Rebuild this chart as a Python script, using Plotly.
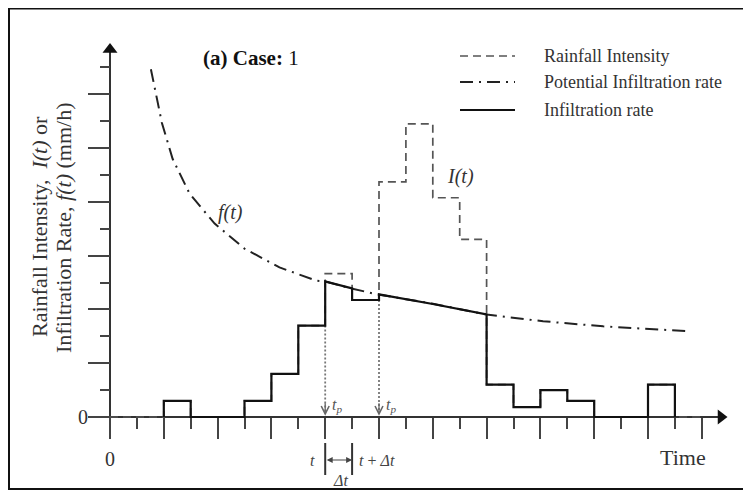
import plotly.graph_objects as go

# ---------------- data (1 unit = one time step / one tick) ----------------
# rainfall intensity per time step (step k spans [k, k+1])
rain_start = list(range(0, 22))
rain_value = [0, 0, 0.6, 0, 0, 0.6, 1.6, 3.4, 5.33, 4.35, 8.74, 10.9, 8.15, 6.6,
              1.2, 0.37, 1.0, 0.6, 0, 0, 1.2, 0]
rain_end = 22

# potential infiltration rate f(t)
f_time = [1.52, 1.93, 2.33, 2.96, 3.89, 5.0, 6.3, 7.67, 8.0, 8.96, 9.93, 11.96, 14.0, 16.1, 18.33, 21.48]
f_rate = [12.93, 10.93, 9.59, 8.3, 7.19, 6.26, 5.56, 5.07, 5.04, 4.78, 4.56, 4.22, 3.81, 3.56, 3.37, 3.19]

# actual infiltration rate (solid line vertices)
inf_time = [2, 2, 3, 3, 5, 5, 6, 6, 7, 7, 8, 8, 9, 9, 10, 10, 12, 14, 14, 15, 15, 16, 16, 17, 17, 18, 18, 20, 20, 21, 21]
inf_rate = [0, 0.6, 0.6, 0, 0, 0.6, 0.6, 1.6, 1.6, 3.4, 3.4, 5.04, 4.78, 4.35, 4.35, 4.56, 4.2, 3.81,
            1.2, 1.2, 0.37, 0.37, 1.0, 1.0, 0.6, 0.6, 0, 0, 1.2, 1.2, 0]

# ponding times t_p and level where the dotted guide starts
tp_time = [8, 10]
tp_level = [3.4, 4.35]

x_major_ticks = list(range(0, 23, 2))
x_minor_ticks = list(range(1, 23, 2))
y_major_ticks = list(range(0, 13, 2))
y_minor_ticks = list(range(1, 14, 2))

legend_labels = ["Rainfall Intensity", "Potential Infiltration rate", "Infiltration rate"]

# ---------------- layout geometry ----------------
PAGE_OFF = 8                 # default body margin of the html page
W, H = 751 - PAGE_OFF, 492 - PAGE_OFF
X0, Y0, U = 110, 417, 26.9   # page pixel of origin and pixels per unit


def px(x):
    return (x - X0) / U


def py(y):
    return (Y0 - y) / U


SERIF = "Liberation Serif, Times New Roman, serif"
DARK = "#222222"
GREY = "#555555"

fig = go.Figure()

# axes lines
fig.add_trace(go.Scatter(x=[px(90), px(722)], y=[0, 0], mode="lines",
                         line=dict(color="#333", width=2), showlegend=False, hoverinfo="skip"))
fig.add_trace(go.Scatter(x=[0, 0], y=[py(436), py(50)], mode="lines",
                         line=dict(color="#333", width=2), showlegend=False, hoverinfo="skip"))
# axis arrowheads
fig.add_trace(go.Scatter(x=[px(721)], y=[0], mode="markers",
                         marker=dict(symbol="triangle-right", size=13, color="#111"),
                         showlegend=False, hoverinfo="skip", cliponaxis=False))
fig.add_trace(go.Scatter(x=[0], y=[py(49.5)], mode="markers",
                         marker=dict(symbol="triangle-up", size=13, color="#111"),
                         showlegend=False, hoverinfo="skip", cliponaxis=False))

# rainfall intensity (dashed step)
fig.add_trace(go.Scatter(x=rain_start + [rain_end], y=rain_value + [rain_value[-1]],
                         mode="lines", line=dict(shape="hv", color=GREY, width=1.7, dash="8px,5px"),
                         name=legend_labels[0], showlegend=False))

# dotted guides at t_p
for t, lv in zip(tp_time, tp_level):
    fig.add_trace(go.Scatter(x=[t, t], y=[lv, 0.12], mode="lines",
                             line=dict(color="#777", width=1.8, dash="2px,2px"),
                             showlegend=False, hoverinfo="skip"))

# potential infiltration (dash-dot)
fig.add_trace(go.Scatter(x=f_time, y=f_rate, mode="lines",
                         line=dict(color=DARK, width=2, dash="13px,6px,2px,6px"),
                         name=legend_labels[1], showlegend=False))

# actual infiltration (solid)
fig.add_trace(go.Scatter(x=inf_time, y=inf_rate, mode="lines",
                         line=dict(color="#111", width=2.2),
                         name=legend_labels[2], showlegend=False))

# custom legend samples
leg_rows = [py(56), py(82), py(110)]
leg_styles = [dict(color=GREY, width=1.7, dash="8px,5px"),
              dict(color=DARK, width=2, dash="13px,6px,2px,6px"),
              dict(color="#111", width=2)]
for yy, st in zip(leg_rows, leg_styles):
    fig.add_trace(go.Scatter(x=[px(460), px(515)], y=[yy, yy], mode="lines", line=st,
                             showlegend=False, hoverinfo="skip"))

annotations = []


def txt(x, y, text, size, color=DARK, xanchor="center", angle=0):
    annotations.append(dict(x=x, y=y, xref="x", yref="y", text=text, showarrow=False,
                            font=dict(family=SERIF, size=size, color=color),
                            xanchor=xanchor, yanchor="middle", textangle=angle))


for yy, lab in zip(leg_rows, legend_labels):
    txt(px(542), yy, lab, 18, color="#333", xanchor="left")

txt(px(251), py(58), "<b>(a) Case:</b> 1", 21, color="#111")
txt(px(460), py(176), "<i>I(t)</i>", 20, color="#333")
txt(px(230), py(212), "<i>f(t)</i>", 20, color="#333")
txt(px(39), py(227), "Rainfall Intensity,  <i>I(t)</i> or", 22, color="#333", angle=-90)
txt(px(63), py(228), "Infiltration Rate, <i>f(t)</i> (mm/h)", 22, color="#333", angle=-90)
txt(px(83), 0, "0", 20, color="#333")
txt(0, py(459), "0", 20, color="#333")
txt(px(683), py(457), "Time", 22, color="#333")
for t in tp_time:
    txt(t + 0.45, py(405), "<i>t<sub>p</sub></i>", 16, color="#555")
txt(px(312), py(460), "<i>t</i>", 16, color="#444")
txt(px(357), py(460), "<i>t</i> + <i>Δt</i>", 16, color="#444", xanchor="left")
txt(px(340), py(480), "<i>Δt</i>", 16, color="#444")

# t_p arrowheads
for t in tp_time:
    annotations.append(dict(x=t, y=0.05, xref="x", yref="y", ax=0, ay=-14, axref="pixel", ayref="pixel",
                            showarrow=True, arrowhead=5, arrowsize=1.2, arrowwidth=1.3,
                            arrowcolor="#666", text=""))
# double-headed Δt arrow
annotations.append(dict(x=tp_time[0] + 1, y=py(460), ax=tp_time[0], ay=py(460), xref="x", yref="y",
                        axref="x", ayref="y", showarrow=True, arrowhead=2, startarrowhead=2,
                        arrowside="end+start", arrowsize=1, arrowwidth=1.2, arrowcolor="#444", text=""))


def pxp(p):   # page pixel -> paper x
    return (p - PAGE_OFF) / W


def pyp(p):   # page pixel -> paper y
    return 1 - (p - PAGE_OFF) / H


shapes = [
    dict(type="rect", xref="paper", yref="paper", x0=pxp(9), x1=1.02, y0=pyp(489), y1=pyp(8.5),
         line=dict(color="#111", width=2)),
]
for t in [tp_time[0], tp_time[0] + 1]:
    shapes.append(dict(type="line", xref="x", yref="y", x0=t, x1=t, y0=py(443), y1=py(475),
                       line=dict(color="#333", width=2)))

fig.update_layout(
    width=W, height=H, autosize=False,
    margin=dict(l=0, r=0, t=0, b=0, pad=0),
    paper_bgcolor="white", plot_bgcolor="white",
    showlegend=False,
    annotations=annotations, shapes=shapes,
    xaxis=dict(range=[px(PAGE_OFF), px(PAGE_OFF + W)], domain=[0, 1], anchor="free",
               position=1 - (Y0 - PAGE_OFF) / H,
               showgrid=False, zeroline=False, showline=False, showticklabels=False,
               ticks="outside", tickvals=x_major_ticks, ticklen=21, tickwidth=2, tickcolor="#444",
               minor=dict(tickvals=x_minor_ticks, ticks="outside", ticklen=11, tickwidth=2, tickcolor="#444"),
               automargin=False, fixedrange=True),
    yaxis=dict(range=[py(PAGE_OFF + H), py(PAGE_OFF)], domain=[0, 1], anchor="free",
               position=(X0 - PAGE_OFF) / W,
               showgrid=False, zeroline=False, showline=False, showticklabels=False,
               ticks="outside", tickvals=y_major_ticks, ticklen=22, tickwidth=2, tickcolor="#444",
               minor=dict(tickvals=y_minor_ticks, ticks="outside", ticklen=10, tickwidth=2, tickcolor="#444"),
               automargin=False, fixedrange=True),
)

fig.write_html("out.html", config={"displayModeBar": False})
